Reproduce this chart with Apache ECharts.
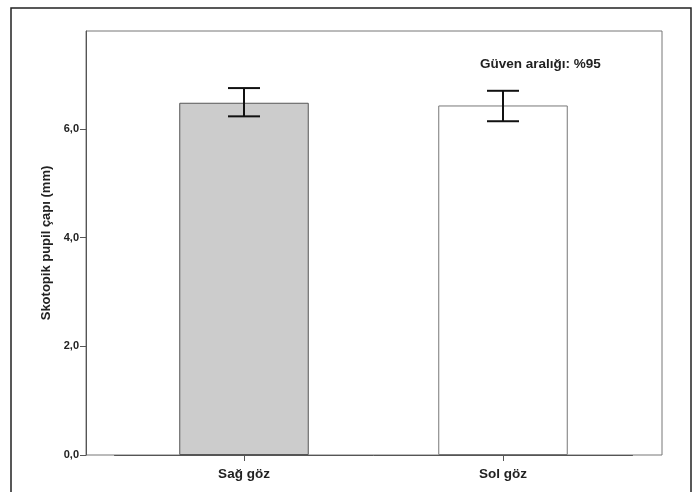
<!DOCTYPE html>
<html>
<head>
<meta charset="utf-8">
<script src="https://cdn.jsdelivr.net/npm/echarts@6/dist/echarts.min.js"></script>
<style>
html,body{margin:0;padding:0;background:#fff;}
#chart{width:694px;height:492px;}
</style>
</head>
<body>
<div id="chart"></div>
<script>
const categories = ['Sağ göz', 'Sol göz'];
const means = [6.48, 6.43];
const ciLow = [6.23, 6.14];
const ciHigh = [6.75, 6.70];
const yTicks = [0, 2, 4, 6];
const barFills = ['#cccccc', '#ffffff'];
const barBorders = ['#555555', '#777777'];

const chart = echarts.init(document.getElementById('chart'));
const font = 'Liberation Sans, Arial, sans-serif';

chart.setOption({
  animation: false,
  backgroundColor: '#ffffff',
  graphic: [
    { type: 'rect', shape: { x: 11, y: 8, width: 680, height: 500 },
      style: { fill: 'none', stroke: '#222', lineWidth: 1.5 }, z: -1 },
    { type: 'text', left: 480, top: 57,
      style: { text: 'Güven aralığı: %95', font: 'bold 13.5px ' + font, fill: '#222' } }
  ],
  grid: [
    { left: 114.5, right: 61.5, top: 31, bottom: 37, show: false },
    { left: 86, right: 32, top: 31, bottom: 37, show: true, borderColor: '#777', borderWidth: 1, backgroundColor: 'transparent' }
  ],
  xAxis: [
    { type: 'category', gridIndex: 0, data: categories,
      axisLine: { show: true, lineStyle: { color: '#555', width: 1 } },
      axisTick: { show: true, alignWithLabel: true, length: 6, lineStyle: { color: '#555' } },
      axisLabel: { color: '#222', fontWeight: 'bold', fontSize: 13.5, fontFamily: font, margin: 12 }
    },
    { type: 'value', gridIndex: 1, show: false }
  ],
  yAxis: [
    { type: 'value', gridIndex: 0, min: 0, max: 7.8, interval: 2, offset: 28.5,
      name: 'Skotopik pupil çapı (mm)', nameLocation: 'middle', nameGap: 31,
      nameTextStyle: { color: '#222', fontWeight: 'bold', fontSize: 13, fontFamily: font },
      axisLine: { show: true, lineStyle: { color: '#555', width: 1 } },
      axisTick: { show: true, length: 6, lineStyle: { color: '#555' }, customValues: yTicks },
      axisLabel: { color: '#222', fontWeight: 'bold', fontSize: 11, fontFamily: font, margin: 7,
        customValues: yTicks, formatter: v => v.toFixed(1).replace('.', ',') },
      splitLine: { show: false }
    },
    { type: 'value', gridIndex: 1, show: false }
  ],
  series: [
    { type: 'bar', xAxisIndex: 0, yAxisIndex: 0, barWidth: '50%',
      data: means.map((v, i) => ({ value: v, itemStyle: { color: barFills[i], borderColor: barBorders[i], borderWidth: 1 } })) },
    { type: 'custom', xAxisIndex: 0, yAxisIndex: 0, z: 10,
      data: categories.map((c, i) => [i, ciLow[i], ciHigh[i]]),
      renderItem: function (params, api) {
        const lo = api.coord([api.value(0), api.value(1)]);
        const hi = api.coord([api.value(0), api.value(2)]);
        const hw = 16;
        const st = { stroke: '#111', lineWidth: 2 };
        return { type: 'group', children: [
          { type: 'line', shape: { x1: lo[0], y1: lo[1], x2: hi[0], y2: hi[1] }, style: st },
          { type: 'line', shape: { x1: hi[0] - hw, y1: hi[1], x2: hi[0] + hw, y2: hi[1] }, style: st },
          { type: 'line', shape: { x1: lo[0] - hw, y1: lo[1], x2: lo[0] + hw, y2: lo[1] }, style: st }
        ] };
      }
    }
  ]
});
</script>
</body>
</html>
